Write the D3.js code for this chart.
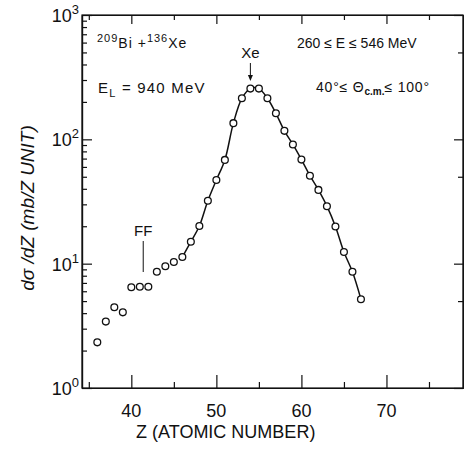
<!DOCTYPE html>
<html>
<head>
<meta charset="utf-8">
<script src="https://cdn.jsdelivr.net/npm/d3@7"></script>
<style>
  body { margin: 0; background: #fff; }
  svg { display: block; font-family: "Liberation Sans", Arial, sans-serif; }
  .axis path, .axis line { stroke: #111; stroke-width: 1.2; }
  .axis text { display: none; }
</style>
</head>
<body>
<div id="chart"></div>
<script>
// atomic number of the fragment
var atomicZ = [36, 37, 38, 39, 40, 41, 42, 43, 44, 45, 46, 47, 48, 49, 50, 51,
  52, 53, 54, 55, 56, 57, 58, 59, 60, 61, 62, 63, 64, 65, 66, 67];
// d sigma / dZ  (mb / Z unit)
var dSigma = [2.33, 3.42, 4.46, 4.06, 6.46, 6.53, 6.53, 8.62, 9.53, 10.3, 11.3, 15.0,
  20.1, 32.1, 47.1, 68.3, 135, 214, 256, 256, 214, 162, 117, 91, 68.7, 51,
  39.2, 29.0, 19.9, 12.4, 8.6, 5.17];
// the drawn curve only goes through Z >= 46
var curveStartZ = 46;

var xTicks = [40, 50, 60, 70];
var xMinorTicks = [35, 45, 55, 65, 75];
var yDecades = [0, 1, 2, 3];

var svgWidth = 464;
var svgHeight = 453;
var margin = { top: 15, right: 1, bottom: 65, left: 82 };
var width = svgWidth - margin.left - margin.right;
var height = svgHeight - margin.top - margin.bottom;

var svg = d3.select("#chart").append("svg")
  .attr("width", svgWidth)
  .attr("height", svgHeight);

var g = svg.append("g")
  .attr("transform", `translate(${margin.left}, ${margin.top})`);

var x = d3.scaleLinear().domain([34.2, 79]).range([0, width]);
var y = d3.scaleLog().domain([1, 1000]).range([height, 0]);

// minor log ticks 2..9 in every decade
var yMinor = [];
[1, 10, 100].forEach(function(d) {
  for (var k = 2; k <= 9; k++) yMinor.push(d * k);
});
var yDecadeVals = yDecades.map(function(p) { return Math.pow(10, p); });
var yRightMinor = [5, 50, 500];

// frame
g.append("rect")
  .attr("width", width).attr("height", height)
  .attr("fill", "none").attr("stroke", "#111").attr("stroke-width", 1.2);

// bottom axis (ticks pointing in)
g.append("g").attr("class", "axis").attr("transform", `translate(0, ${height})`)
  .call(d3.axisBottom(x).tickValues(xTicks).tickSize(-13).tickSizeOuter(0));
g.append("g").attr("class", "axis").attr("transform", `translate(0, ${height})`)
  .call(d3.axisBottom(x).tickValues(xMinorTicks).tickSize(-6).tickSizeOuter(0));
// top axis
g.append("g").attr("class", "axis")
  .call(d3.axisTop(x).tickValues(xTicks).tickSize(-9).tickSizeOuter(0));
g.append("g").attr("class", "axis")
  .call(d3.axisTop(x).tickValues(xMinorTicks).tickSize(-5).tickSizeOuter(0));
// left axis
g.append("g").attr("class", "axis")
  .call(d3.axisLeft(y).tickValues(yDecadeVals).tickSize(-10).tickSizeOuter(0));
g.append("g").attr("class", "axis")
  .call(d3.axisLeft(y).tickValues(yMinor).tickSize(-5).tickSizeOuter(0));
// right axis
g.append("g").attr("class", "axis").attr("transform", `translate(${width}, 0)`)
  .call(d3.axisRight(y).tickValues(yDecadeVals).tickSize(-9).tickSizeOuter(0));
g.append("g").attr("class", "axis").attr("transform", `translate(${width}, 0)`)
  .call(d3.axisRight(y).tickValues(yRightMinor).tickSize(-5).tickSizeOuter(0));

// x tick labels
g.selectAll(".xlab").data(xTicks).enter().append("text")
  .attr("x", d => x(d))
  .attr("y", height + 29)
  .attr("text-anchor", "middle")
  .attr("font-size", 18)
  .attr("fill", "#111")
  .text(d => d);

// y tick labels 10^n
var ylab = g.selectAll(".ylab").data(yDecades).enter().append("text")
  .attr("x", -3)
  .attr("y", d => y(Math.pow(10, d)) + 7)
  .attr("text-anchor", "end")
  .attr("font-size", 18)
  .attr("fill", "#111");
ylab.append("tspan").text("10");
ylab.append("tspan").attr("dy", -8).attr("font-size", 13).text(d => d);

// axis titles
svg.append("text")
  .attr("x", margin.left + x(51.1))
  .attr("y", 438)
  .attr("text-anchor", "middle")
  .attr("font-size", 18)
  .attr("fill", "#111")
  .text("Z (ATOMIC NUMBER)");

svg.append("text")
  .attr("transform", "translate(34, 208) rotate(-90)")
  .attr("text-anchor", "middle")
  .attr("font-size", 19)
  .attr("font-style", "italic")
  .attr("fill", "#111")
  .text("d\u03c3 /dZ (mb/Z UNIT)");

// curve
var pts = atomicZ.map(function(z, i) { return { z: z, v: dSigma[i] }; });
var line = d3.line()
  .x(d => x(d.z))
  .y(d => y(d.v))
  .curve(d3.curveCatmullRom.alpha(0.5));
g.append("path")
  .datum(pts.filter(d => d.z >= curveStartZ))
  .attr("fill", "none")
  .attr("stroke", "#111")
  .attr("stroke-width", 1.5)
  .attr("d", line);

// open circle markers
g.selectAll("circle").data(pts).enter().append("circle")
  .attr("cx", d => x(d.z))
  .attr("cy", d => y(d.v))
  .attr("r", 3.4)
  .attr("fill", "#fff")
  .attr("stroke", "#111")
  .attr("stroke-width", 1.3);

// annotations
var ann = svg.append("g").attr("fill", "#111").attr("font-size", 14);

var t1 = ann.append("text").attr("x", 97).attr("y", 48).attr("letter-spacing", 1);
t1.append("tspan").attr("font-size", 11).attr("dy", -6).text("209");
t1.append("tspan").attr("dy", 6).text("Bi +");
t1.append("tspan").attr("font-size", 11).attr("dy", -6).text("136");
t1.append("tspan").attr("dy", 6).text("Xe");

ann.append("text").attr("x", 297).attr("y", 48).text("260 \u2264 E \u2264 546  MeV");

var t2 = ann.append("text").attr("x", 98).attr("y", 93).attr("letter-spacing", 1.2);
t2.append("tspan").attr("font-size", 15).text("E");
t2.append("tspan").attr("font-size", 11).attr("dy", 4).text("L");
t2.append("tspan").attr("dy", -4).attr("font-size", 15).text(" = 940 MeV");

var t3 = ann.append("text").attr("x", 316).attr("y", 92).attr("letter-spacing", 0.8);
t3.append("tspan").text("40\u00b0\u2264 \u0398");
t3.append("tspan").attr("font-size", 10).attr("font-weight", "bold").attr("letter-spacing", 0).attr("dy", 3).text("c.m.");
t3.append("tspan").attr("dy", -3).text("\u2264 100\u00b0");

// Xe arrow
var xeX = margin.left + x(54);
ann.append("text").attr("x", xeX).attr("y", 58).attr("text-anchor", "middle").attr("font-size", 15).text("Xe");
ann.append("line").attr("x1", xeX).attr("x2", xeX).attr("y1", 63).attr("y2", 78)
  .attr("stroke", "#111").attr("stroke-width", 1);
ann.append("path")
  .attr("d", `M${xeX - 2.5},75 L${xeX + 2.5},75 L${xeX},81 Z`);

// FF marker
var ffX = margin.left + x(41.4);
ann.append("text").attr("x", ffX).attr("y", 236).attr("text-anchor", "middle").attr("font-size", 15).text("FF");
ann.append("line").attr("x1", ffX).attr("x2", ffX).attr("y1", 241).attr("y2", 272)
  .attr("stroke", "#111").attr("stroke-width", 1);
</script>
</body>
</html>
